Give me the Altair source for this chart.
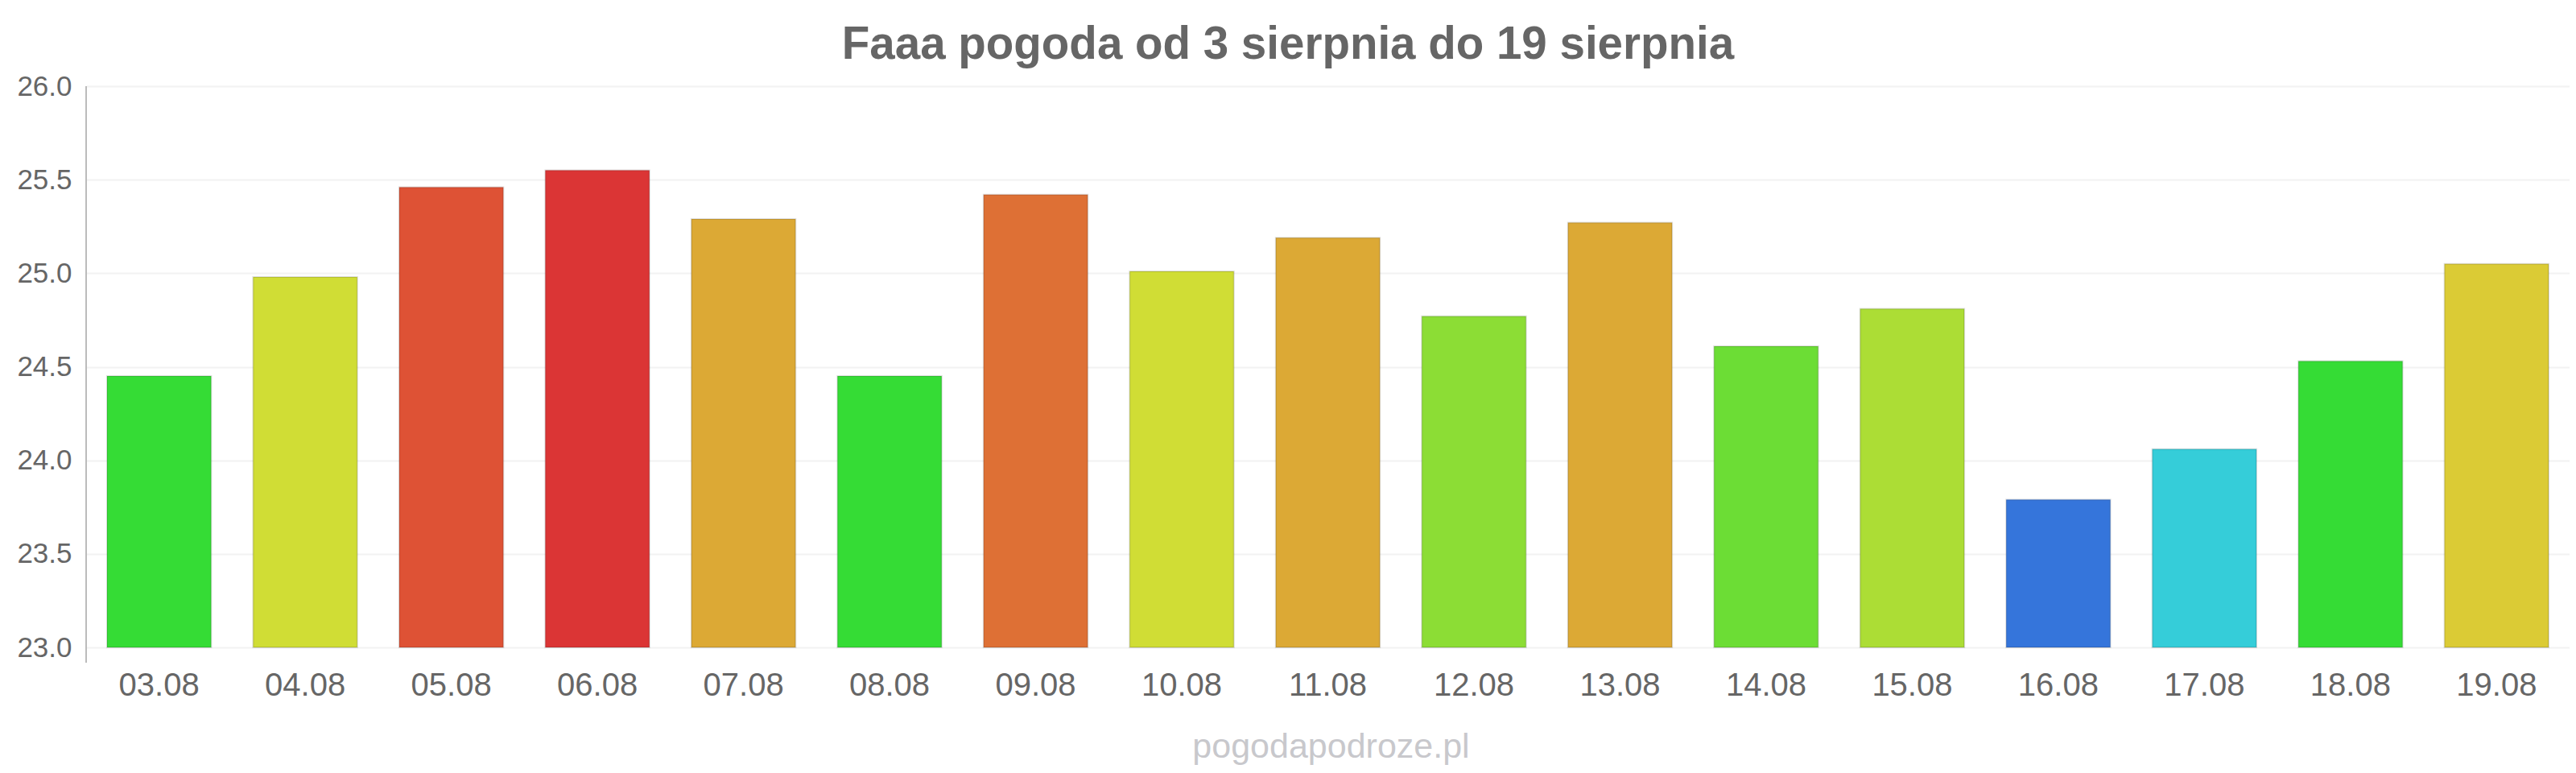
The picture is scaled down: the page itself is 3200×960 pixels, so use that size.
import altair as alt
import pandas as pd

dates = ["03.08", "04.08", "05.08", "06.08", "07.08", "08.08", "09.08", "10.08", "11.08",
         "12.08", "13.08", "14.08", "15.08", "16.08", "17.08", "18.08", "19.08"]
temps = [24.45, 24.98, 25.46, 25.55, 25.29, 24.45, 25.42, 25.01, 25.19,
         24.77, 25.27, 24.61, 24.81, 23.79, 24.06, 24.53, 25.05]
colors = ["#35dc35", "#d0dd35", "#de5235", "#db3535", "#dca935", "#35dc35", "#de7035", "#d0dd35", "#dca935",
          "#8cdd35", "#dca935", "#6cdd35", "#acdd35", "#3575db", "#35cdd9", "#35dc35", "#dbcb35"]
y_ticks = [23.0, 23.5, 24.0, 24.5, 25.0, 25.5, 26.0]
y_min, y_max = 23.0, 26.0
title_text = "Faaa pogoda od 3 sierpnia do 19 sierpnia"
credit_text = "pogodapodroze.pl"

W = 3085
H = 697
FONT = "Liberation Sans"

df = pd.DataFrame({"date": dates, "temp": temps, "color": colors})

bars = alt.Chart(df).mark_bar(stroke="black", strokeOpacity=0.13, strokeWidth=2).encode(
    x=alt.X("date:N", sort=dates, title=None,
            scale=alt.Scale(paddingInner=0.287, paddingOuter=0.143),
            axis=alt.Axis(labelAngle=0, labelFontSize=40, labelColor="#666666", labelFont=FONT,
                          ticks=False, domain=False, labelPadding=27, grid=False)),
    y=alt.Y("temp:Q", title=None,
            scale=alt.Scale(domain=[y_min, y_max], nice=False, zero=False),
            axis=alt.Axis(values=y_ticks, format=".1f", labelFontSize=35, labelColor="#666666",
                          labelFont=FONT, ticks=False, domain=False, labelPadding=18,
                          grid=True, gridColor="#f2f2f2", gridWidth=2)),
    y2=alt.datum(y_min),
    color=alt.Color("color:N", scale=None),
)

axis_line = alt.Chart(pd.DataFrame({"a": [0]})).mark_rule(color="#bbbbbb", strokeWidth=2).encode(
    x=alt.value(0), y=alt.value(0), y2=alt.value(H + 19)
)

title = alt.Chart(pd.DataFrame({"t": [title_text]})).mark_text(
    font=FONT, fontSize=56.5, fontWeight="bold", color="#666666", align="center", baseline="alphabetic"
).encode(text="t:N", x=alt.value(1493), y=alt.value(-34))

credit = alt.Chart(pd.DataFrame({"t": [credit_text]})).mark_text(
    font=FONT, fontSize=43, color="#c8c8cc", align="center", baseline="alphabetic"
).encode(text="t:N", x=alt.value(W / 2 + 4), y=alt.value(834))

chart = alt.layer(bars, axis_line, title, credit).properties(
    width=W, height=H,
    autosize=alt.AutoSizeParams(type="none"),
    padding={"left": 99, "top": 99, "right": 0, "bottom": 148},
).configure_view(stroke=None).configure(background="white")

chart.save("out.html", embed_options={"renderer": "svg", "actions": False})
